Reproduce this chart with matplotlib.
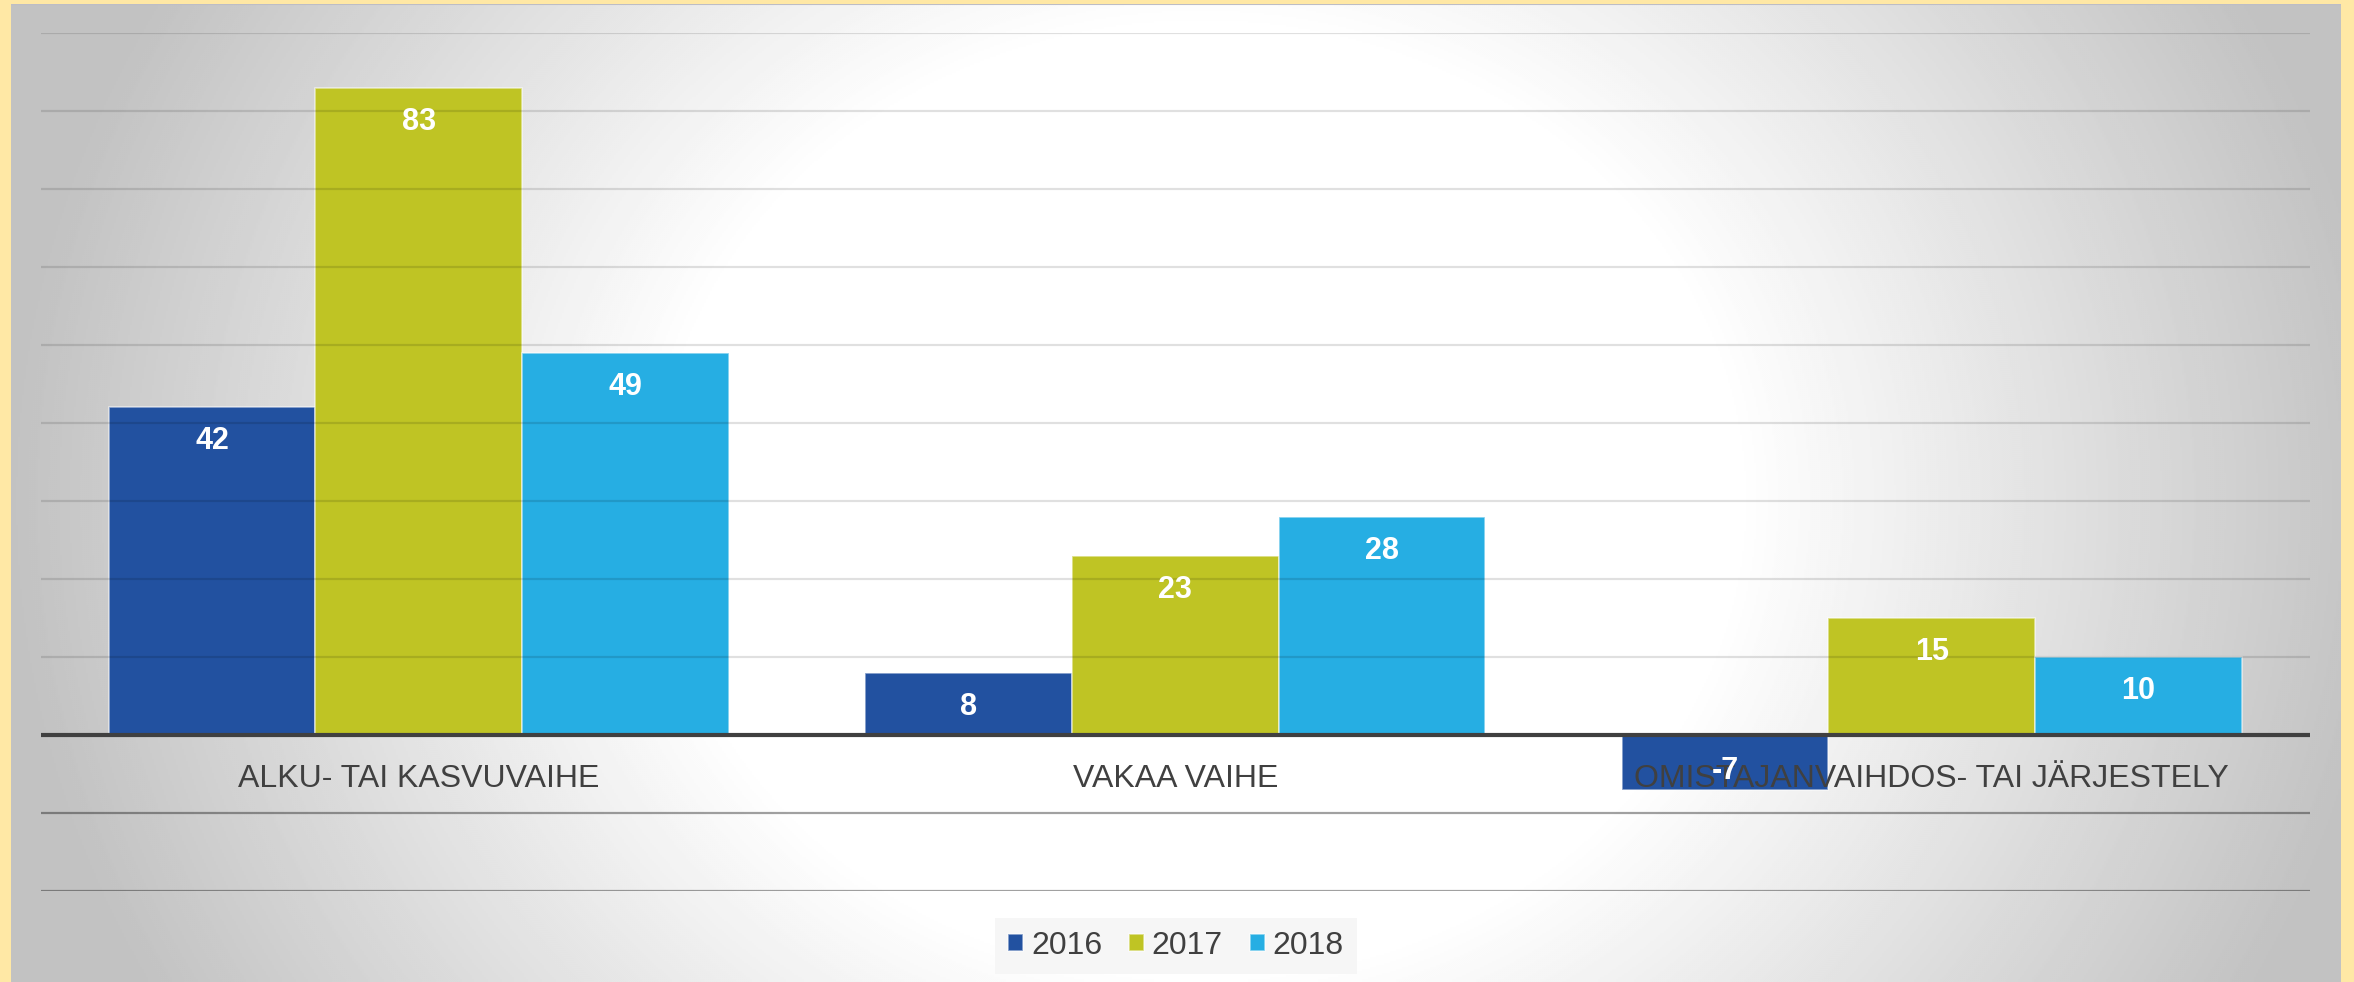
import matplotlib
matplotlib.use("Agg")
import matplotlib.pyplot as plt
import numpy as np

plt.rcParams["font.family"] = ["Liberation Sans", "DejaVu Sans"]

categories = ["ALKU- TAI KASVUVAIHE", "VAKAA VAIHE", "OMISTAJANVAIHDOS- TAI JÄRJESTELY"]
years = ["2016", "2017", "2018"]
v2016 = [42, 8, -7]
v2017 = [83, 23, 15]
v2018 = [49, 28, 10]
series = [v2016, v2017, v2018]
colors = ["#2251A0", "#BFC424", "#26AEE3"]

W, H = 2354, 982
fig = plt.figure(figsize=(W / 100, H / 100), dpi=100)
fig.patch.set_facecolor("#FFE8A5")

# gray panel with radial gradient (white in the middle)
px0, px1, py0 = 11, 2341, 4
bg = fig.add_axes([px0 / W, 0, (px1 - px0) / W, (H - py0) / H])
gx, gy = np.meshgrid(np.arange(px0, px1, 2), np.arange(py0, H, 2))
r = np.sqrt(((gx - 1200) / 1190.0) ** 2 + ((gy - 500) / 1050.0) ** 2)
shade = 1 - 0.24 * np.clip((r - 0.45) / 0.55, 0, 1)
bg.imshow(shade, cmap="gray", vmin=0, vmax=1, aspect="auto",
          extent=(0, 1, 0, 1), interpolation="bilinear")
bg.set_xlim(0, 1)
bg.set_ylim(0, 1)
bg.set_axis_off()
bg.plot([0, 1], [1, 1], color="#BDBDC5", lw=1.5, transform=bg.transAxes)

# main chart area
ax_l, ax_r, ax_t, ax_b = 40.5, 2310, 33, 891
ax = fig.add_axes([ax_l / W, (H - ax_b) / H, (ax_r - ax_l) / W, (ax_b - ax_t) / H])
ax.patch.set_alpha(0)
ax.set_xlim(-0.5, 2.5)
ax.set_ylim(-20, 90)
ax.set_axis_off()

x = np.arange(len(categories))
bw = 0.273
for i, (vals, col, yr) in enumerate(zip(series, colors, years)):
    xs = x + (i - 1) * bw
    ax.bar(xs, vals, width=bw, color=col, edgecolor=(1, 1, 1, 0.55),
           linewidth=1.2, zorder=2, label=yr)
    for xi, v in zip(xs, vals):
        off = -30.2 if v >= 0 else 7.6
        ax.annotate(str(v), (xi, v), xytext=(0, off), textcoords="offset points",
                    ha="center", va="baseline", fontsize=22, fontweight="bold",
                    color="white", zorder=6)

# gridlines, light above zero and darker below
for gv in np.arange(-20, 100, 10):
    if gv == 0:
        continue
    a = 0.12 if gv > 0 else 0.37
    ax.axhline(gv, color="black", alpha=a, lw=1.6, zorder=3)
ax.axhline(0, color="#404040", lw=3, zorder=4)

for xi, lab in zip(x, categories):
    ax.annotate(lab, (xi, 0), xytext=(0, -37.4), textcoords="offset points",
                ha="center", va="baseline", fontsize=23, color="#404040", zorder=5)

handles, labels = ax.get_legend_handles_labels()
leg = fig.legend(handles, labels, loc="center", bbox_to_anchor=(0.4996, 0.0367),
                 ncol=3, fontsize=23, frameon=True, fancybox=False,
                 handlelength=0.47, handleheight=0.47, handletextpad=0.24,
                 columnspacing=0.85, borderpad=0.4, borderaxespad=0,
                 labelcolor="#404040")
leg.get_frame().set_facecolor("#F6F6F6")
leg.get_frame().set_edgecolor("none")
leg.get_frame().set_alpha(0.9)

fig.savefig("out.png", dpi=100)
